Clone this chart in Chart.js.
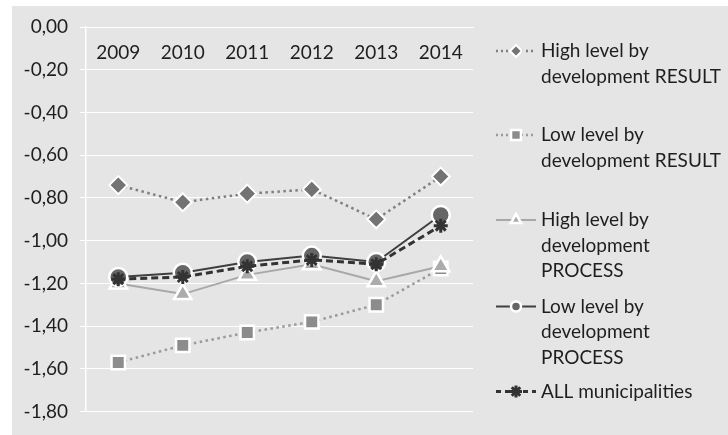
<!DOCTYPE html>
<html>
<head>
<meta charset="utf-8">
<script src="https://cdn.jsdelivr.net/npm/chart.js@4/dist/chart.umd.min.js"></script>
<style>
  html, body { margin: 0; padding: 0; background: #ffffff; }
  #wrap { position: relative; width: 728px; height: 435px; }
</style>
</head>
<body>
<div id="wrap"><canvas id="chart" width="728" height="435"></canvas></div>
<script>
// Years on the category axis
const years = ['2009', '2010', '2011', '2012', '2013', '2014'];

// Series values
const highResult  = [-0.74, -0.82, -0.78, -0.76, -0.90, -0.70];
const lowResult   = [-1.57, -1.49, -1.43, -1.38, -1.30, -1.13];
const highProcess = [-1.20, -1.25, -1.16, -1.11, -1.19, -1.12];
const lowProcess  = [-1.17, -1.15, -1.10, -1.07, -1.10, -0.88];
const allMunicip  = [-1.18, -1.17, -1.12, -1.09, -1.11, -0.93];

// Legend label lines
const legendLines = [
  ['High level by', 'development RESULT'],
  ['Low level by', 'development RESULT'],
  ['High level by', 'development', 'PROCESS'],
  ['Low level by', 'development', 'PROCESS'],
  ['ALL municipalities']
];

// Value axis range
const yMin = -1.8, yMax = 0, yStep = 0.2;

const FONT = 'Lato, "Liberation Sans", sans-serif';
const TEXT = '#1e1e1e';

// Grey panel behind the plot
const panelBg = {
  id: 'panelBg',
  beforeDraw(chart) {
    const ctx = chart.ctx;
    ctx.save();
    ctx.fillStyle = '#ffffff';
    ctx.fillRect(0, 0, chart.width, chart.height);
    ctx.fillStyle = '#e5e5e5';
    ctx.fillRect(12, 6, chart.width - 12, chart.height - 6);
    ctx.restore();
  }
};

// Legend on the right: multi-line entries with a line + marker sample
const sideLegend = {
  id: 'sideLegend',
  afterDraw(chart) {
    const ctx = chart.ctx;
    const entryTop = [51, 135, 220, 306.5, 391.5];
    const lineH = 25.5;
    const x0 = 496, x1 = 536, mx = 516, tx = 541;
    ctx.save();
    chart.data.datasets.forEach((ds, i) => {
      const y = entryTop[i];
      ctx.save();
      ctx.strokeStyle = ds.borderColor;
      ctx.lineWidth = ds.borderWidth;
      ctx.setLineDash(ds.legendDash || ds.borderDash || []);
      ctx.beginPath();
      ctx.moveTo(x0, y);
      ctx.lineTo(x1, y);
      ctx.stroke();
      ctx.restore();

      ctx.save();
      ctx.fillStyle = ds.pointBackgroundColor;
      ctx.strokeStyle = ds.pointBorderColor;
      ctx.lineWidth = ds.pointBorderWidth;
      ctx.setLineDash([]);
      Chart.helpers.drawPoint(ctx, {
        pointStyle: ds.pointStyle,
        rotation: 0,
        borderWidth: ds.pointBorderWidth,
        radius: ds.legendRadius
      }, mx, y);
      ctx.restore();

      ctx.fillStyle = TEXT;
      ctx.font = '19px ' + FONT;
      ctx.textBaseline = 'middle';
      ctx.textAlign = 'left';
      legendLines[i].forEach((t, k) => ctx.fillText(t, tx, y + k * lineH));
    });
    ctx.restore();
  }
};

new Chart(document.getElementById('chart'), {
  type: 'line',
  data: {
    labels: years,
    datasets: [
      {
        label: 'High level by development RESULT',
        data: highResult,
        borderColor: '#7f7f7f', borderWidth: 2.5, borderDash: [2.5, 3.5], legendDash: [2, 3],
        pointStyle: 'rectRot', pointRadius: 9, pointBackgroundColor: '#737373',
        pointBorderColor: '#ffffff', pointBorderWidth: 2, legendRadius: 6,
        order: 4
      },
      {
        label: 'Low level by development RESULT',
        data: lowResult,
        borderColor: '#9a9a9a', borderWidth: 2.5, borderDash: [2.5, 3.5], legendDash: [2, 3],
        pointStyle: 'rect', pointRadius: 9.5, pointBackgroundColor: '#8c8c8c',
        pointBorderColor: '#ffffff', pointBorderWidth: 2.5, legendRadius: 7,
        order: 3
      },
      {
        label: 'High level by development PROCESS',
        data: highProcess,
        borderColor: '#a8a8a8', borderWidth: 2,
        pointStyle: 'triangle', pointRadius: 10, pointBackgroundColor: '#ababab',
        pointBorderColor: '#ffffff', pointBorderWidth: 2.5, legendRadius: 6,
        order: 2
      },
      {
        label: 'Low level by development PROCESS',
        data: lowProcess,
        borderColor: '#3f3f3f', borderWidth: 2,
        pointStyle: 'circle', pointRadius: 9, pointBackgroundColor: '#666666',
        pointBorderColor: '#ffffff', pointBorderWidth: 2.5, legendRadius: 5,
        order: 1
      },
      {
        label: 'ALL municipalities',
        data: allMunicip,
        borderColor: '#333333', borderWidth: 3, borderDash: [7, 4], legendDash: [5, 4],
        pointStyle: 'star', pointRadius: 7, pointBackgroundColor: '#333333',
        pointBorderColor: '#333333', pointBorderWidth: 3, legendRadius: 6,
        order: 0
      }
    ]
  },
  options: {
    responsive: false,
    animation: false,
    devicePixelRatio: 1,
    layout: { padding: { left: 12, right: 255, top: 0, bottom: 20 } },
    plugins: { legend: { display: false }, tooltip: { enabled: false } },
    elements: { line: { tension: 0, fill: false } },
    scales: {
      x: {
        position: 'top',
        offset: true,
        grid: { display: false, drawTicks: false },
        border: { display: true, color: '#ffffff', width: 1 },
        ticks: {
          color: TEXT,
          font: { family: FONT, size: 19 },
          padding: 14.6,
          mirror: true,
          maxRotation: 0,
          autoSkip: false
        },
        afterFit(scale) { scale.height = 27; }
      },
      y: {
        min: yMin, max: yMax,
        grid: { color: '#ffffff', lineWidth: 1, tickLength: 6, drawTicks: true },
        border: { display: true, color: '#ffffff', width: 1.5 },
        ticks: {
          stepSize: yStep,
          color: TEXT,
          font: { family: FONT, size: 19 },
          padding: 12,
          callback: (v) => Number(v).toFixed(2).replace('.', ',')
        },
        afterFit(scale) { scale.width = 74; }
      }
    }
  },
  plugins: [panelBg, sideLegend]
});
</script>
</body>
</html>
